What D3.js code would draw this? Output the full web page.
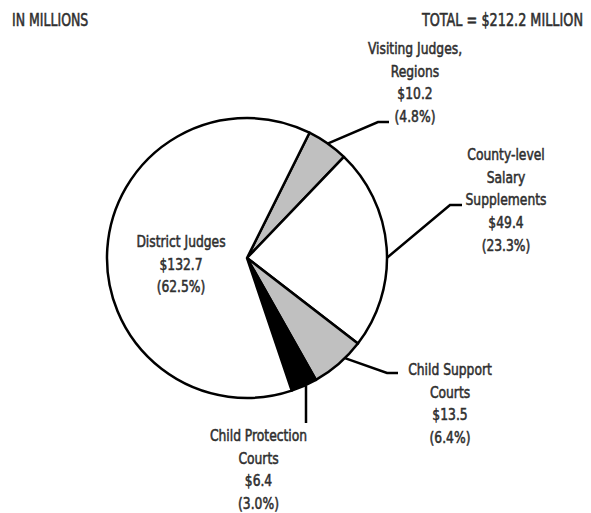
<!DOCTYPE html>
<html>
<head>
<meta charset="utf-8">
<script src="https://cdn.jsdelivr.net/npm/d3@7"></script>
<style>
  body { margin: 0; background: #fff; }
  text { font-family: "DejaVu Sans Condensed", "DejaVu Sans", sans-serif; fill: #2f2f2f; stroke: #2f2f2f; stroke-width: 0.55px; }
</style>
</head>
<body>
<div id="chart"></div>
<script>
// chart data (in millions)
const categories = ["Visiting Judges, Regions", "County-level Salary Supplements", "Child Support Courts", "Child Protection Courts", "District Judges"];
const amounts = [10.2, 49.4, 13.5, 6.4, 132.7];
const shares = ["4.8%", "23.3%", "6.4%", "3.0%", "62.5%"];
// how each label is broken into lines
const labelLines = [
  ["Visiting Judges,", "Regions"],
  ["County-level", "Salary", "Supplements"],
  ["Child Support", "Courts"],
  ["Child Protection", "Courts"],
  ["District Judges"]
];
const fills = ["#c0c0c0", "#fff", "#c0c0c0", "#000", "#fff"];

const width = 591, height = 513;
const cx = 247, cy = 258, radius = 140;
const squeeze = 0.8; // narrow the font, the original uses a condensed face

const svg = d3.select("#chart").append("svg")
  .attr("width", width)
  .attr("height", height);

svg.append("text")
  .attr("transform", "translate(12,26) scale(" + squeeze + ",1)")
  .style("font-size", "17.4px").text("IN MILLIONS");
svg.append("text")
  .attr("transform", "translate(583,26) scale(0.82,1)")
  .attr("text-anchor", "end")
  .style("font-size", "17.4px").text("TOTAL = $212.2 MILLION");

// start the first slice a bit past 12 o'clock, like the original
const start = 26.5 * Math.PI / 180;
const pie = d3.pie().sort(null).value(d => d)
  .startAngle(start).endAngle(start + 2 * Math.PI);
const arc = d3.arc().innerRadius(0).outerRadius(radius);

const g = svg.append("g").attr("transform", "translate(" + cx + "," + cy + ")");
const arcs = pie(amounts);

g.selectAll("path")
  .data(arcs)
  .enter()
  .append("path")
  .attr("d", arc)
  .attr("fill", (d, i) => fills[i])
  .attr("stroke", "#000")
  .attr("stroke-width", 2.5)
  .attr("stroke-linejoin", "round");

// label layout: elbow offsets and where the text block sits (relative to center)
// t = where along the slice the leader leaves the rim (0..1)
const layout = [
  { t: 0.5, elbow: [131, -136], end: [142, -136], tx: 168, ty: -204 },
  { t: 0.55, elbow: [203, -53], end: [215, -53], tx: 259, ty: -98 },
  { t: 0.35, elbow: [140, 115], end: [151, 115], tx: 203, ty: 117 },
  { t: 0.5, elbow: null, end: [59, 165], tx: 11.5, ty: 183 },
  { t: null, tx: -66, ty: -11 }
];
const lineH = 22.7;

arcs.forEach((d, i) => {
  const L = layout[i];
  if (L.t !== null) {
    const a = d.startAngle + (d.endAngle - d.startAngle) * L.t;
    let p0 = [radius * Math.sin(a), -radius * Math.cos(a)];
    let pts;
    if (L.elbow) {
      pts = [p0, L.elbow, L.end];
    } else {
      pts = [[L.end[0], p0[1]], L.end];
    }
    g.append("path")
      .attr("d", d3.line()(pts))
      .attr("fill", "none")
      .attr("stroke", "#000")
      .attr("stroke-width", 2.5);
  }
  const lines = labelLines[i].concat(["$" + amounts[i].toFixed(1), "(" + shares[i] + ")"]);
  const txt = g.append("text")
    .attr("transform", "translate(" + L.tx + ",0) scale(0.83,1)")
    .attr("text-anchor", "middle")
    .style("font-size", "16.5px");
  lines.forEach((s, k) => {
    txt.append("tspan")
      .attr("x", 0)
      .attr("y", L.ty + k * lineH)
      .text(s);
  });
});
</script>
</body>
</html>
